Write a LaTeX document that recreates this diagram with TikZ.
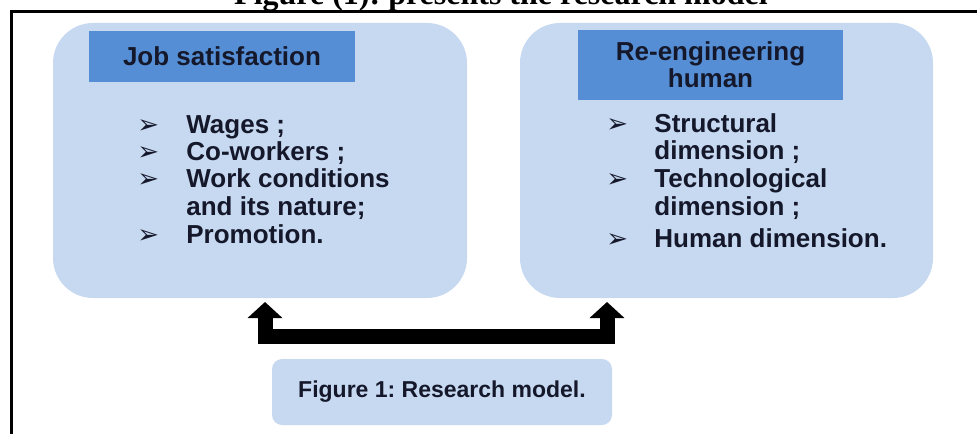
\documentclass[tikz,border=0pt]{standalone}
\usepackage{fontspec}
\setmainfont{Liberation Sans}
\newfontfamily\titleserif{Liberation Serif}
\newfontfamily\dingfont{DejaVu Sans}
\usetikzlibrary{arrows.meta}
\definecolor{panelBlue}{HTML}{C6D9F1}
\definecolor{headBlue}{HTML}{558ED5}
\definecolor{inkText}{HTML}{15182A}
\frenchspacing

\begin{document}
\begin{tikzpicture}[x=0.5pt, y=-0.5pt, color=inkText,
    panel/.style={fill=panelBlue, draw=none, inner sep=0pt},
    headbox/.style={fill=headBlue, draw=none, inner sep=0pt, align=center,
        font=\bfseries\fontsize{13}{13.5}\selectfont},
    item/.style={anchor=base west, inner sep=0pt,
        font=\bfseries\fontsize{13}{13.5}\selectfont},
    tick/.style={anchor=base west, inner sep=0pt,
        font=\dingfont\fontsize{13}{13}\selectfont},
    bigarrow/.style={draw=black, line width=7.5pt, line join=miter,
        {Triangle[width=17pt, length=8pt]}-{Triangle[width=17pt, length=8pt]}}]

    \clip (0,0) rectangle (977,433);

    % heading above the frame
    \node[anchor=base, inner sep=0pt, text=black,
        font=\titleserif\bfseries\fontsize{16}{18}\selectfont] (title) at (501,5)
        {Figure (1): presents the research model};

    % frame
    \draw[black, line width=1.5pt, line join=miter] (11,440) -- (11,11.5) -- (985,11.5);

    % the two panels
    \node[panel, rounded corners=20pt, minimum width=207pt, minimum height=137.5pt]
        (jsbox) at (260,160.5) {};
    \node[panel, rounded corners=20pt, minimum width=206.5pt, minimum height=137.5pt]
        (rebox) at (726.5,160.5) {};

    \node[headbox, minimum width=133pt, minimum height=25.5pt] (jshead) at (222,56.5)
        {Job satisfaction};
    \node[headbox, minimum width=132.5pt, minimum height=35pt] (rehead) at (710.5,65)
        {Re-engineering\\human};

    % job satisfaction items
    \foreach \yy/\txt [count=\i] in {133/Wages ;, 160/Co-workers ;,
        187/Work conditions, 215/and its nature;, 243/Promotion.} {
        \node[item] (js\i) at (186,\yy) {\txt};
    }
    \foreach \yy [count=\i] in {133,160,187,243} {
        \node[tick] (jsb\i) at (137,\yy) {➢};
    }

    % re-engineering items
    \foreach \yy/\txt [count=\i] in {132/Structural, 159/dimension ;,
        187/Technological, 215/dimension ;, 247/Human dimension.} {
        \node[item] (re\i) at (654,\yy) {\txt};
    }
    \foreach \yy [count=\i] in {132,187,247} {
        \node[tick] (reb\i) at (606,\yy) {➢};
    }

    % double arrow under the panels
    \coordinate (upL) at (265,302);
    \coordinate (upR) at (607,302);
    \draw[bigarrow] (upL) -- ++(0,34) -| (upR);

    % caption box
    \node[panel, rounded corners=5pt, minimum width=170pt, minimum height=33pt,
        font=\bfseries\fontsize{11.5}{13}\selectfont] (caption) at (442,392)
        {Figure 1: Research model.};

\end{tikzpicture}
\end{document}
